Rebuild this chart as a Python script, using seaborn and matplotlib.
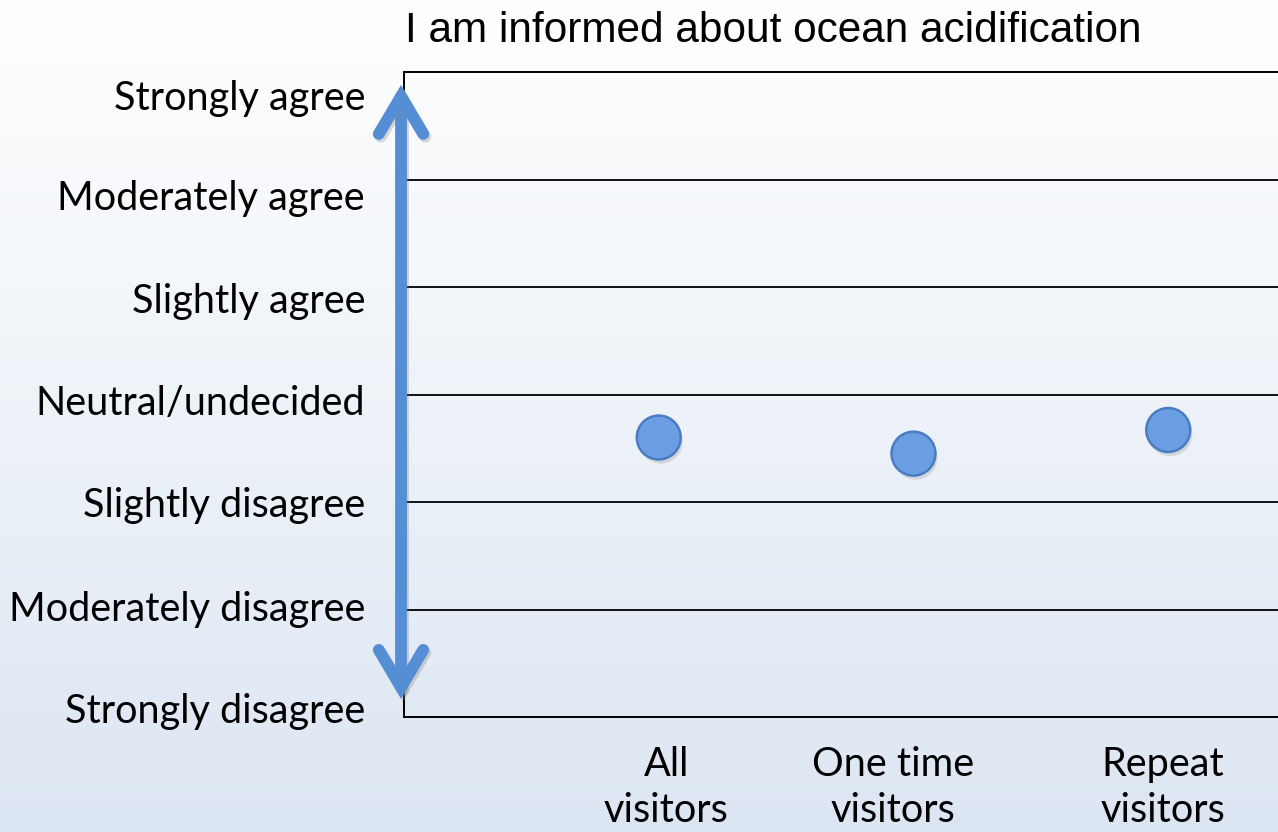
import numpy as np
import matplotlib
matplotlib.use("Agg")
import matplotlib.pyplot as plt
import matplotlib.patheffects as pe
import seaborn as sns
import pandas as pd

# ---- data ----
title = "I am informed about ocean acidification"
categories = ["All\nvisitors", "One time\nvisitors", "Repeat\nvisitors"]
values = [3.60, 3.45, 3.67]
levels = ["Strongly disagree", "Moderately disagree", "Slightly disagree",
          "Neutral/undecided", "Slightly agree", "Moderately agree", "Strongly agree"]

sns.set_theme(style="white")
plt.rcParams['font.family'] = ['Lato', 'DejaVu Sans']

fig = plt.figure(figsize=(12.78, 8.32), dpi=100)

# gradient background
bg = fig.add_axes([0, 0, 1, 1], zorder=-10)
grad = np.linspace(0, 1, 256).reshape(-1, 1)
top_c = np.array([1.0, 1.0, 1.0])
bot_c = np.array([0xDC, 0xE6, 0xF2]) / 255.0
img = top_c[None, None, :] * (1 - grad[:, :, None]) + bot_c[None, None, :] * grad[:, :, None]
bg.imshow(img, aspect='auto', extent=[0, 1, 0, 1], origin='upper')
bg.set_axis_off()

ax = fig.add_axes([404/1278, 1 - 717/832, 1 - 404/1278 + 0.002, (717 - 72)/832])
ax.set_facecolor('none')

df = pd.DataFrame({"pos": np.arange(1, len(categories) + 1), "value": values})
sns.scatterplot(data=df, x="pos", y="value", ax=ax, s=1000, color="#6C9EE3",
                edgecolor="#4A7CC2", linewidth=1.8, zorder=5, legend=False)
for coll in ax.collections:
    coll.set_path_effects([pe.SimplePatchShadow(offset=(1.5, -3), shadow_rgbFace='#9a9a9a', alpha=0.3),
                           pe.Normal()])

ax.set_ylim(1, 7)
ax.set_xlim(0, 874/254)
# label positions (text boxes are spread slightly inside the grid)
label_pos = [1.0 + (717 - p) / 107.5 for p in [708, 606, 502, 400, 298, 195, 95]]
ax.set_yticks(label_pos)
ax.set_yticklabels(levels, fontsize=28.5, color='black')
ax.set_xticks([1.03, 1.92, 2.98])
ax.set_xticklabels(categories, fontsize=28.5, color='black', linespacing=1.3)
ax.tick_params(axis='y', length=0, pad=28)
ax.tick_params(axis='x', length=0, pad=21)
ax.set_xlabel("")
ax.set_ylabel("")
for y in range(2, 7):
    ax.axhline(y, color='black', lw=1.3, zorder=1)
for s in ['left', 'top', 'bottom']:
    ax.spines[s].set_color('black')
    ax.spines[s].set_linewidth(1.4)
ax.spines['right'].set_visible(False)

# double-headed arrow
arr = ax.annotate('', xy=(-0.0034, 0.98), xytext=(-0.0034, 0.028),
                  xycoords='axes fraction', textcoords='axes fraction',
                  arrowprops=dict(arrowstyle='<->,head_length=27,head_width=16',
                                  mutation_scale=1, color='#558ED5', lw=8.5,
                                  shrinkA=0, shrinkB=0, capstyle='round', joinstyle='miter'),
                  annotation_clip=False, zorder=6)
arr.arrow_patch.set_path_effects([pe.SimpleLineShadow(offset=(1.5, -2), shadow_color='#808080', alpha=0.3),
                                  pe.Normal()])

fig.text(405/1278, 1 - 31/832, title, fontsize=30.5, family=['Liberation Sans', 'DejaVu Sans'],
         ha='left', va='center', color='black')

fig.savefig("out.png", dpi=100)
